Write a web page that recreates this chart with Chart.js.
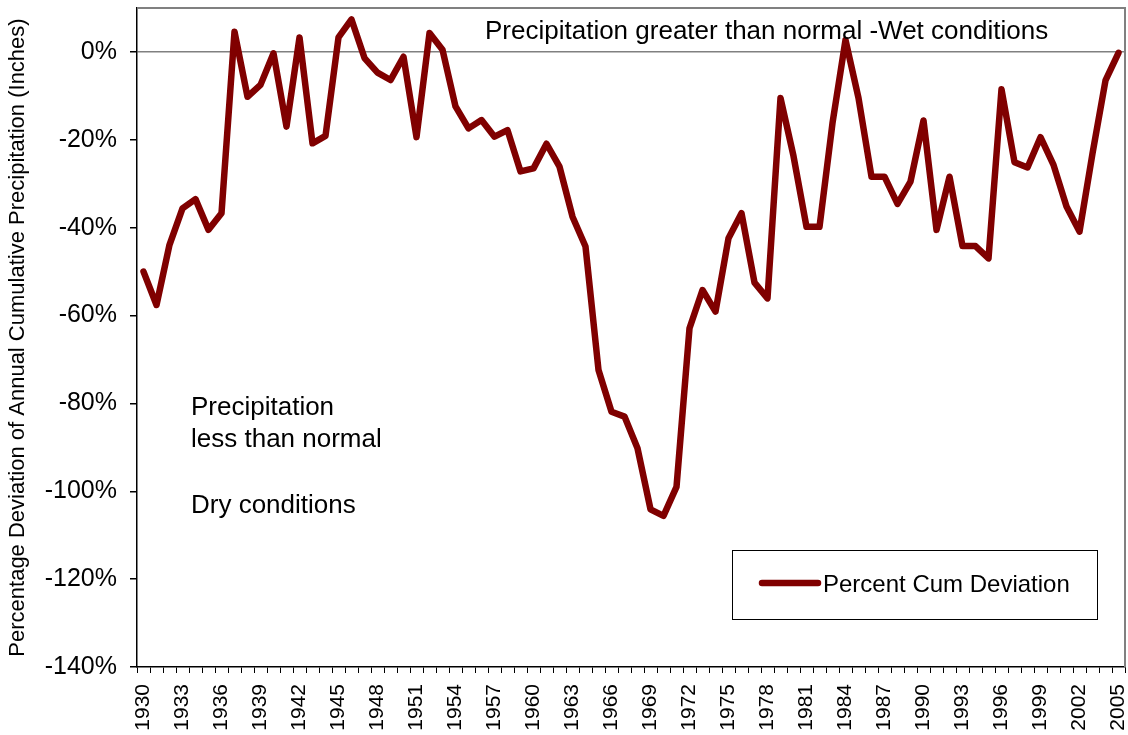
<!DOCTYPE html>
<html>
<head>
<meta charset="utf-8">
<script src="https://cdn.jsdelivr.net/npm/chart.js@4.4.1/dist/chart.umd.min.js"></script>
<style>
  body { margin: 0; background: #fff; }
  #wrap { width: 1128px; height: 735px; }
</style>
</head>
<body>
<div id="wrap"><canvas id="deviationChart" width="1128" height="735"></canvas></div>
<script>
const years = [
    1930, 1931, 1932, 1933, 1934, 1935, 1936, 1937, 1938, 1939,
    1940, 1941, 1942, 1943, 1944, 1945, 1946, 1947, 1948, 1949,
    1950, 1951, 1952, 1953, 1954, 1955, 1956, 1957, 1958, 1959,
    1960, 1961, 1962, 1963, 1964, 1965, 1966, 1967, 1968, 1969,
    1970, 1971, 1972, 1973, 1974, 1975, 1976, 1977, 1978, 1979,
    1980, 1981, 1982, 1983, 1984, 1985, 1986, 1987, 1988, 1989,
    1990, 1991, 1992, 1993, 1994, 1995, 1996, 1997, 1998, 1999,
    2000, 2001, 2002, 2003, 2004, 2005
];

// percent cumulative deviation
const percentCumDeviation = [
    -50.0, -57.6, -43.9, -35.6, -33.5, -40.5, -36.7, 4.6, -10.2, -7.5,
    -0.3, -17.0, 3.3, -20.8, -19.1, 3.3, 7.4, -1.4, -4.7, -6.4,
    -1.1, -19.4, 4.3, 0.5, -12.4, -17.4, -15.5, -19.3, -17.8, -27.2,
    -26.5, -20.9, -26.1, -37.5, -44.3, -72.4, -81.9, -83.0, -90.2, -104.1,
    -105.6, -99.0, -62.9, -54.2, -59.1, -42.4, -36.7, -52.5, -56.1, -10.5,
    -23.7, -39.8, -39.8, -16.2, 2.7, -10.5, -28.4, -28.4, -34.6, -29.5,
    -15.6, -40.5, -28.4, -44.2, -44.2, -47.0, -8.5, -25.1, -26.3, -19.4,
    -25.7, -35.2, -40.9, -23.1, -6.5, -0.2
];

const yTicks = [0, -20, -40, -60, -80, -100, -120, -140];
const wetNote = 'Precipitation greater than normal -Wet conditions';
const dryNote = ['Precipitation', 'less than normal', '', 'Dry conditions'];

const FONT = '"Liberation Sans", Arial, sans-serif';

const notesPlugin = {
    id: 'notes',
    afterDraw(chart) {
        const ctx = chart.ctx;
        const area = chart.chartArea;
        ctx.save();

        // plot area frame (top / right)
        ctx.strokeStyle = '#808080';
        ctx.lineWidth = 2;
        ctx.beginPath();
        ctx.moveTo(area.left, area.top);
        ctx.lineTo(area.right, area.top);
        ctx.lineTo(area.right, area.bottom);
        ctx.stroke();

        ctx.fillStyle = '#000';
        ctx.font = '26px ' + FONT;
        ctx.textBaseline = 'middle';
        ctx.textAlign = 'left';
        ctx.fillText(wetNote, 485, 32);

        const lineY = [408, 440, 473, 506];
        dryNote.forEach((t, i) => ctx.fillText(t, 191, lineY[i]));

        // legend box
        const ds = chart.data.datasets[0];
        ctx.fillStyle = '#fff';
        ctx.fillRect(732.5, 550.5, 365, 69);
        ctx.strokeStyle = '#000';
        ctx.lineWidth = 1;
        ctx.strokeRect(732.5, 550.5, 365, 69);
        ctx.strokeStyle = ds.borderColor;
        ctx.lineWidth = ds.borderWidth;
        ctx.lineCap = 'round';
        ctx.beginPath();
        ctx.moveTo(762, 583);
        ctx.lineTo(818, 583);
        ctx.stroke();
        ctx.fillStyle = '#000';
        ctx.font = '24px ' + FONT;
        ctx.fillText(ds.label, 823, 585);

        ctx.restore();
    }
};

const ctxDeviation = document.getElementById('deviationChart').getContext('2d');

const deviationChart = new Chart(ctxDeviation, {
    type: 'line',
    data: {
        labels: years.map(String),
        datasets: [
            {
                label: 'Percent Cum Deviation',
                data: percentCumDeviation,
                borderColor: '#800000',
                borderWidth: 6.5,
                borderJoinStyle: 'round',
                borderCapStyle: 'round',
                pointRadius: 0,
                tension: 0,
                fill: false
            }
        ]
    },
    options: {
        responsive: false,
        animation: false,
        layout: { padding: { top: 8, right: 3, left: 0, bottom: 0 } },
        plugins: {
            legend: { display: false },
            tooltip: { enabled: false }
        },
        scales: {
            x: {
                type: 'category',
                offset: true,
                afterFit(scale) {
                    scale.height = 68;
                    scale.paddingLeft = 0;
                    scale.paddingRight = 0;
                },
                border: { display: true, color: '#000', width: 1.5 },
                grid: {
                    offset: true,
                    drawOnChartArea: false,
                    drawTicks: true,
                    tickLength: 6,
                    tickColor: '#000'
                },
                ticks: {
                    autoSkip: false,
                    maxRotation: 90,
                    minRotation: 90,
                    padding: 11,
                    color: '#000',
                    font: { family: FONT, size: 21 },
                    callback(value, index) {
                        if (index % 3 === 0 || index === years.length - 1) {
                            return this.getLabelForValue(value);
                        }
                        return '';
                    }
                }
            },
            y: {
                min: -140,
                max: 10,
                afterFit(scale) {
                    scale.width = 137;
                    scale.paddingTop = 0;
                    scale.paddingBottom = 0;
                },
                afterBuildTicks(scale) {
                    scale.ticks = yTicks.map(v => ({ value: v }));
                },
                border: { display: true, color: '#000', width: 1.5 },
                grid: {
                    drawTicks: true,
                    tickLength: 7,
                    tickColor: '#000',
                    lineWidth: 1.5,
                    color: ctx => (ctx.tick && ctx.tick.value === 0 ? '#808080' : 'rgba(0,0,0,0)')
                },
                ticks: {
                    padding: 13,
                    color: '#000',
                    font: { family: FONT, size: 25 },
                    callback: v => v + '%'
                },
                title: {
                    display: true,
                    text: 'Percentage Deviation of Annual Cumulative Precipitation (Inches)',
                    color: '#000',
                    font: { family: FONT, size: 22 },
                    padding: { top: 5, bottom: 0 }
                }
            }
        }
    },
    plugins: [notesPlugin]
});
</script>
</body>
</html>
